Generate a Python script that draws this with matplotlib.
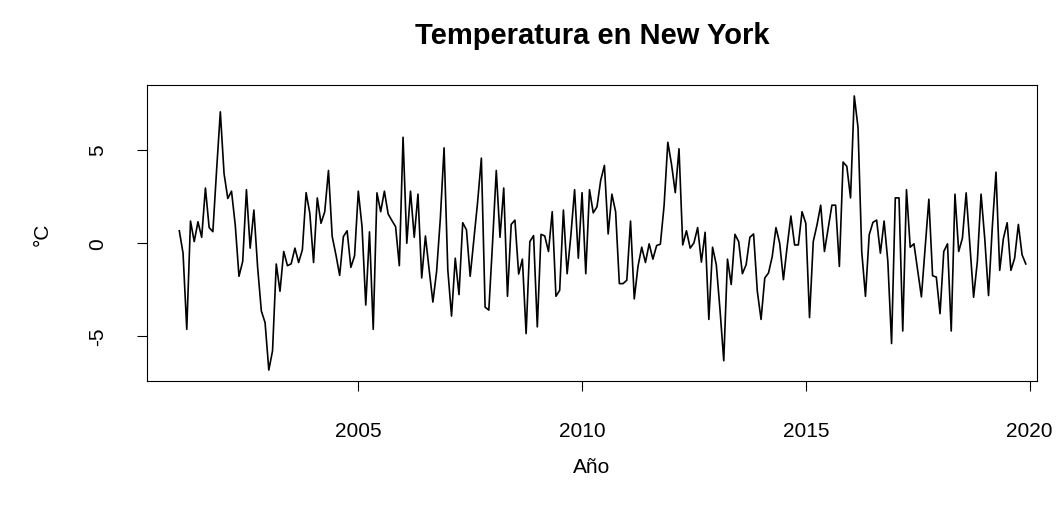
import numpy as np
import matplotlib
matplotlib.use("Agg")
from matplotlib import pyplot as plt

# serie mensual, enero 2001 - diciembre 2019
inicio = 2001
temp = [
    0.65, -0.55, -4.63, 1.17, 0.07, 1.13, 0.30, 2.94, 0.82, 0.60, 3.9, 7.02,
    3.71, 2.38, 2.77, 0.96, -1.79, -0.99, 2.85, -0.28, 1.76, -1.3, -3.65, -4.27,
    -6.81, -5.78, -1.13, -2.59, -0.46, -1.22, -1.12, -0.28, -1.05, -0.37, 2.69, 1.58,
    -1.05, 2.41, 1.05, 1.67, 3.88, 0.34, -0.64, -1.74, 0.34, 0.65, -1.31, -0.69,
    2.77, 0.87, -3.33, 0.59, -4.63, 2.68, 1.67, 2.77, 1.55, 1.2, 0.87, -1.22,
    5.66, -0.02, 2.77, 0.30, 2.61, -1.88, 0.37, -1.44, -3.17, -1.52, 1.31, 5.09,
    -1.44, -3.92, -0.82, -2.77, 1.08, 0.7, -1.79, 0.2, 2.2, 4.54, -3.44, -3.60,
    0.0, 3.88, 0.30, 2.94, -2.86, 0.99, 1.22, -1.67, -0.87, -4.86, 0.07, 0.39,
    -4.5, 0.46, 0.37, -0.46, 1.67, -2.86, -2.54, 1.76, -1.65, 0.4, 2.85, -0.82,
    2.69, -1.65, 2.85, 1.61, 1.93, 3.35, 4.15, 0.48, 2.61, 1.67, -2.18, -2.18,
    -2.0, 1.17, -3.0, -1.26, -0.23, -1.05, -0.05, -0.87, -0.14, -0.07, 2.0, 5.39,
    4.2, 2.69, 5.04, -0.11, 0.65, -0.28, 0.0, 0.82, -1.03, 0.57, -4.10, -0.23,
    -1.17, -3.6, -6.31, -0.87, -2.23, 0.46, 0.07, -1.65, -1.17, 0.30, 0.48, -2.59,
    -4.10, -1.88, -1.61, -0.73, 0.82, -0.02, -1.97, -0.2, 1.44, -0.11, -0.11, 1.67,
    1.05, -4.0, 0.07, 0.96, 2.02, -0.46, 0.78, 2.02, 2.02, -1.26, 4.33, 4.10,
    2.41, 7.87, 6.19, -0.46, -2.86, 0.43, 1.10, 1.22, -0.55, 1.17, -0.99, -5.39,
    2.41, 2.41, -4.72, 2.85, -0.23, -0.05, -1.47, -2.89, -0.3, 2.34, -1.76, -1.83,
    -3.79, -0.46, -0.05, -4.72, 2.61, -0.46, 0.25, 2.68, -0.1, -2.91, -1.0, 2.61,
    0.2, -2.82, 0.8, 3.79, -1.47, 0.25, 1.08, -1.47, -0.82, 0.99, -0.64, -1.13,
]
xticks = [2005, 2010, 2015, 2020]
yticks = [-5, 0, 5]

t = inicio + np.arange(len(temp)) / 12.0

plt.rcParams['font.family'] = ['Liberation Sans', 'DejaVu Sans']

fig = plt.figure(figsize=(10.64, 5.06), dpi=100)
ax = fig.add_axes([147 / 1064, 1 - 382 / 506, 890 / 1064, 296 / 506])

ax.plot(t, temp, color='black', linewidth=1.2)

ax.set_xlim(t[0] - 0.722, t[-1] + 0.25)
lo, hi = min(temp), max(temp)
ax.set_ylim(lo - 0.04 * (hi - lo), hi + 0.04 * (hi - lo))

ax.set_xticks(xticks)
ax.set_yticks(yticks)
ax.set_yticklabels([str(v) for v in yticks], rotation=90, va='center')
ax.tick_params(direction='out', length=7, width=0.8, labelsize=15, pad=22)
for s in ax.spines.values():
    s.set_linewidth(0.8)

ax.set_title('Temperatura en New York', fontsize=21, fontweight='bold', pad=30)
ax.set_xlabel('Año', fontsize=15, labelpad=12)
ax.set_ylabel('°C', fontsize=15, labelpad=26)

plt.savefig('out.png', dpi=100)
